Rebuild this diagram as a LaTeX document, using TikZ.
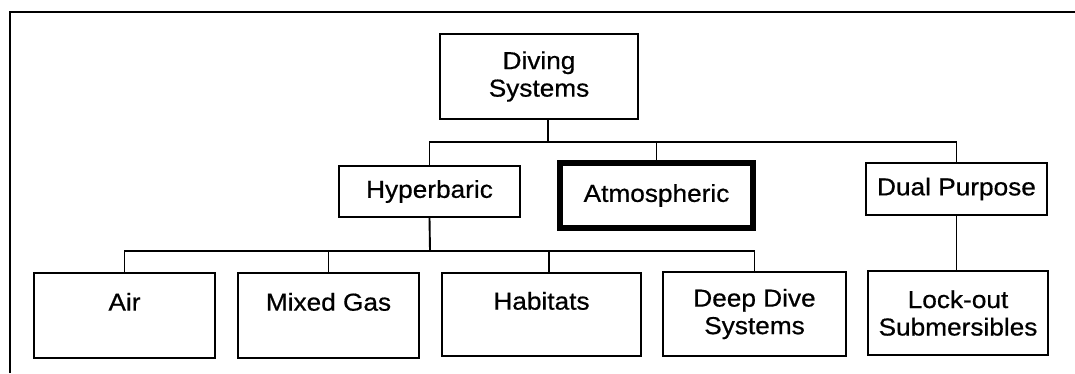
\documentclass[tikz,border=0pt]{standalone}
\usepackage{fontspec}
\setmainfont{Liberation Sans}[FakeStretch=1.07, FakeBold=0.6]
\begin{document}
\begin{tikzpicture}[x=1pt,y=-1pt,
  box/.style={draw, line width=1.9pt, inner sep=0pt, align=center,
    font=\fontsize{24.5}{27.5}\selectfont},
  thickbox/.style={box, line width=5.5pt},
  conn/.style={line width=1.9pt},
  frameline/.style={line width=1.7pt}]
\useasboundingbox (0,0) rectangle (1075,373);
% frame
\coordinate (ftl) at (10,12);
\coordinate (ftr) at (1075,12);
\coordinate (fbl) at (10,373);
\draw[frameline] (fbl) -- (ftl) -- (ftr);
% nodes
\node[box, minimum width=198pt, minimum height=85pt] (dive) at (539,76.5) {Diving\\Systems};
\node[box, minimum width=181pt, minimum height=51pt] (hyp) at (429.5,191.5) {Hyperbaric};
\node[thickbox, minimum width=193pt, minimum height=65pt] (atm) at (656.5,195.5) {Atmospheric};
\node[box, minimum width=181pt, minimum height=52pt] (dual) at (956.5,189) {Dual Purpose};
\node[box, minimum width=181pt, minimum height=85pt] (air) at (124.5,315.5) {Air\\\mbox{}};
\node[box, minimum width=181pt, minimum height=85pt] (mix) at (328.5,315.5) {Mixed Gas\\\mbox{}};
\node[box, minimum width=199pt, minimum height=83pt] (hab) at (541.5,314.5) {Habitats\\\mbox{}};
\node[box, minimum width=183pt, minimum height=84pt] (deep) at (754.5,314) {Deep Dive\\Systems};
\node[box, minimum width=180pt, minimum height=84pt] (lock) at (958,313) {Lock-out\\Submersibles};
% connectors level 1
\coordinate (bar1) at (548,142);
\draw[conn] ([xshift=9pt]dive.south) -- ([xshift=9pt]dive.south |- bar1);
\draw[conn] (hyp.north) |- (bar1) -| (dual.north);
\draw[conn] (atm.north) -- (atm.north |- bar1);
% connectors level 2
\coordinate (bar2) at (430,251);
\draw[conn] (hyp.south) -- (bar2);
\draw[conn] (air.north) |- (bar2) -| (deep.north);
\draw[conn] (mix.north) -- (mix.north |- bar2);
\draw[conn] ([xshift=7.5pt]hab.north) -- ([xshift=7.5pt]hab.north |- bar2);
% dual to lock
\draw[conn] (dual.south) -- (dual.south |- lock.north);
\end{tikzpicture}
\end{document}
